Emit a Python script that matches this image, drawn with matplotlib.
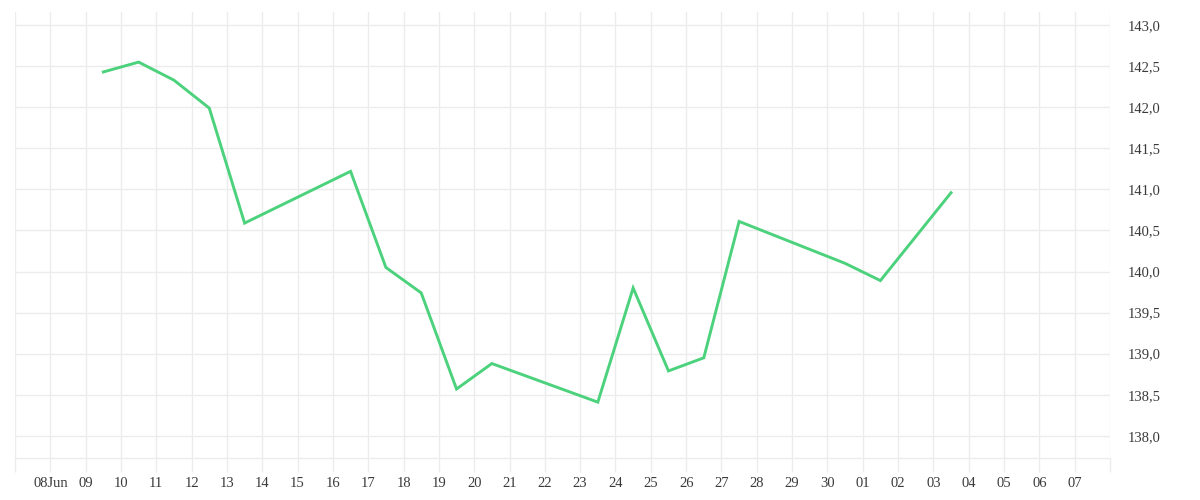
import matplotlib
matplotlib.use("Agg")
import matplotlib.pyplot as plt
import matplotlib.dates as mdates
import matplotlib.ticker as mticker
import pandas as pd

dates = ["2025-06-09 12:00", "2025-06-10 12:00", "2025-06-11 12:00", "2025-06-12 12:00",
         "2025-06-13 12:00", "2025-06-16 12:00", "2025-06-17 12:00", "2025-06-18 12:00",
         "2025-06-19 12:00", "2025-06-20 12:00", "2025-06-23 12:00", "2025-06-24 12:00",
         "2025-06-25 12:00", "2025-06-26 12:00", "2025-06-27 12:00", "2025-06-30 12:00",
         "2025-07-01 12:00", "2025-07-03 12:00"]
values = [142.43, 142.55, 142.33, 141.99, 140.59, 141.22, 140.05, 139.74,
          138.57, 138.88, 138.41, 139.80, 138.79, 138.95, 140.61, 140.10,
          139.89, 140.96]
x_start = "2025-06-07"
x_end = "2025-07-08"
y_min, y_max = 137.73, 143.16
y_ticks = [138.0, 138.5, 139.0, 139.5, 140.0, 140.5, 141.0, 141.5, 142.0, 142.5, 143.0]

grid_c = "#ececec"
text_c = "#3a3a3a"
font = ["Liberation Serif", "DejaVu Serif"]

fig = plt.figure(figsize=(12, 5), dpi=100)
ax = fig.add_axes([15/1200, 42/500, (1110-15)/1200, (458-12)/500])

x = pd.to_datetime(dates)
ax.plot(x, values, color="#4cd27c", linewidth=2.1, solid_joinstyle="miter", zorder=3)

ax.set_xlim(pd.Timestamp(x_start), pd.Timestamp(x_end))
ax.set_ylim(y_min, y_max)

ax.xaxis.set_major_locator(mdates.DayLocator())
def fmt(v, pos):
    d = mdates.num2date(v)
    if d.month == 6 and d.day == 7:
        return ""
    if d.month == 7 and d.day == 8:
        return ""
    if d.month == 6 and d.day == 8:
        return "08Jun"
    return d.strftime("%d")
ax.xaxis.set_major_formatter(mticker.FuncFormatter(fmt))

ax.yaxis.tick_right()
ax.set_yticks(y_ticks)
ax.yaxis.set_major_formatter(mticker.FuncFormatter(lambda v, p: f"{v:.1f}".replace(".", ",")))

ax.grid(True, color=grid_c, linewidth=1, zorder=0)
for s in ["top", "left", "right"]:
    ax.spines[s].set_visible(False)
ax.spines["bottom"].set_color(grid_c)
ax.spines["bottom"].set_linewidth(1)

ax.tick_params(axis="x", direction="out", length=10, width=1, color=grid_c, pad=4,
               labelsize=10.5, labelcolor=text_c)
ax.tick_params(axis="y", length=0, pad=13, labelsize=10.5, labelcolor=text_c)
for lab in ax.get_xticklabels() + ax.get_yticklabels():
    lab.set_family(font)

fig.savefig("out.png", dpi=100, facecolor="white")
